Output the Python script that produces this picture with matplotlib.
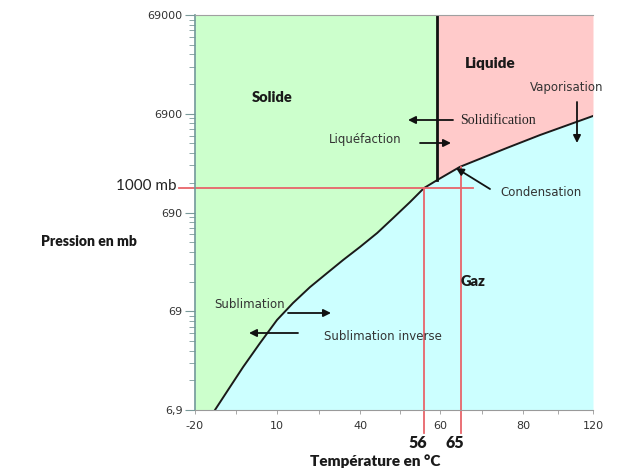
import numpy as np
import matplotlib.pyplot as plt
from matplotlib.scale import FuncScale

# Graduations de l'axe des températures (échelle non linéaire du document)
T_grad = [-20, 10, 40, 60, 80, 120]
T_grad_lab = ["-20", "10", "40", "60", "80", "120"]

# Graduations de l'axe des pressions (log)
P_grad = [6.9, 69, 690, 6900, 69000]
P_grad_lab = ["6,9", "69", "690", "6900", "69000"]

# Courbe sublimation / vaporisation
T_courbe = [-12.7, -7.2, -2.4, 3.8, 10.0, 15.8, 21.9, 28.1, 33.9, 40.0,
            44.3, 48.3, 52.5, 56.0, 59.3, 64.8, 76.1, 89.7, 120.0]
P_courbe = [6.9, 11.8, 18.8, 32.9, 56.3, 83.7, 121, 168, 228, 309,
            428, 607, 880, 1220, 1470, 2000, 3105, 4200, 6550]
i_triple = 14  # point triple

# repères rouges
P_ref = 1220
T_ref1 = 56
T_ref2 = 65

vert = "#CCFFCC"
rose = "#FFCACA"
cyan = "#CCFFFF"
rouge = "#E8646A"

# échelle en x : morceaux linéaires entre les graduations
U_grad = [0, 82, 165, 245, 328, 398]


def vers_u(t):
    return np.interp(t, T_grad, U_grad)


def vers_t(u):
    return np.interp(u, U_grad, T_grad)


W, H = 630, 473
fig = plt.figure(figsize=(W / 100, H / 100), dpi=100)
ax = fig.add_axes([195 / W, 1 - 410 / H, 398 / W, 395 / H])
ax.set_xscale(FuncScale(ax, (vers_u, vers_t)))
ax.set_yscale("log")
ax.set_xlim(T_grad[0], T_grad[-1])
ax.set_ylim(P_grad[0], P_grad[-1])

T = np.array(T_courbe)
P = np.array(P_courbe)
pmin, pmax = P_grad[0], P_grad[-1]

# zones
ax.fill_between(np.r_[T_grad[0], T[:i_triple + 1]], np.r_[pmin, P[:i_triple + 1]], pmax,
                color=vert, lw=0)
ax.fill_between(T[i_triple:], P[i_triple:], pmax, color=rose, lw=0)
ax.fill_between(T, pmin, P, color=cyan, lw=0)

# courbes
ax.plot(T, P, color="#1a1a1a", lw=1.4)
ax.plot([T[i_triple], T[i_triple]], [P[i_triple], pmax], color="#111111", lw=2)


def frac_y(p):
    return (np.log10(p) - np.log10(pmin)) / (np.log10(pmax) - np.log10(pmin))


def frac_x(t):
    return (vers_u(t) - U_grad[0]) / (U_grad[-1] - U_grad[0])


# lignes rouges
ax.axhline(P_ref, xmin=-0.04, xmax=frac_x(T_ref2) + 0.03, color=rouge, lw=1.3, clip_on=False)
ax.axvline(T_ref1, ymin=-0.058, ymax=frac_y(P_ref), color=rouge, lw=1.3, clip_on=False)
P65 = 10 ** np.interp(T_ref2, T, np.log10(P))
ax.axvline(T_ref2, ymin=-0.058, ymax=frac_y(P65), color=rouge, lw=1.3, clip_on=False)

# axes
ax.set_xticks(T_grad, T_grad_lab)
ax.set_xticks([-5, 25, 50, 70, 100], minor=True)
ax.set_yticks(P_grad, P_grad_lab)
ax.set_yticks([m * p for p in P_grad[:-1] for m in range(2, 10)], minor=True)
ax.yaxis.set_minor_formatter(plt.NullFormatter())
ax.tick_params(axis="y", which="major", length=7, width=0.8, color="#7a9a9a",
               labelsize=8, labelcolor="#333333", pad=2)
ax.tick_params(axis="y", which="minor", length=4, width=0.6, color="#7a9a9a")
ax.tick_params(axis="x", which="both", length=3, width=0.6, color="#999999",
               labelsize=8, labelcolor="#333333", pad=5)
ax.spines["left"].set_color("#6f9898")
ax.spines["left"].set_linewidth(1.2)
ax.spines["bottom"].set_color("#9a9a9a")
ax.spines["top"].set_color("#a0a0a0")
ax.spines["right"].set_visible(False)


def fp(x, y):
    return (x / W, 1 - y / H)


gras = dict(family="Lato", fontweight="heavy", color="#1a1a1a")
fin = dict(family="DejaVu Sans", fontsize=8.5, color="#333333")

fig.text(*fp(272, 97), "Solide", fontsize=10.5, ha="center", va="center", **gras)
fig.text(*fp(490, 64), "Liquide", fontsize=11, ha="center", va="center", **gras)
fig.text(*fp(473, 282), "Gaz", fontsize=10.5, ha="center", va="center", **gras)
fig.text(*fp(89, 241), "Pression en mb", fontsize=10, ha="center", va="center", **gras)
fig.text(*fp(375, 461), "Température en °C", fontsize=11, ha="center", va="center", **gras)
fig.text(*fp(427, 443), "56", fontsize=11.5, ha="right", va="center", **gras)
fig.text(*fp(464, 443), "65", fontsize=11.5, ha="right", va="center", **gras)
fig.text(*fp(176, 186), "1000 mb", fontsize=11, ha="right", va="center",
         family="Lato", color="#222222")

fig.text(*fp(567, 88), "Vaporisation", ha="center", va="center", **fin)
fig.text(*fp(498, 120), "Solidification", ha="center", va="center",
         family="Liberation Serif", fontsize=10, color="#222222")
fig.text(*fp(365, 139), "Liquéfaction", ha="center", va="center", **fin)
fig.text(*fp(541, 192), "Condensation", ha="center", va="center", **fin)
fig.text(*fp(250, 305), "Sublimation", ha="center", va="center", **fin)
fig.text(*fp(383, 337), "Sublimation inverse", ha="center", va="center", **fin)

fleche = dict(arrowstyle="-|>", color="#111111", lw=1.3, mutation_scale=11,
              shrinkA=0, shrinkB=0)
for debut, fin_f in [((577, 102), (577, 143)),
                     ((453, 120), (408, 120)),
                     ((420, 143), (451, 143)),
                     ((490, 189), (456, 168)),
                     ((288, 313), (331, 313)),
                     ((298, 333), (249, 333))]:
    ax.annotate("", xy=fp(*fin_f), xytext=fp(*debut), xycoords="figure fraction",
                textcoords="figure fraction", arrowprops=fleche)

fig.savefig("out.png", dpi=100)
